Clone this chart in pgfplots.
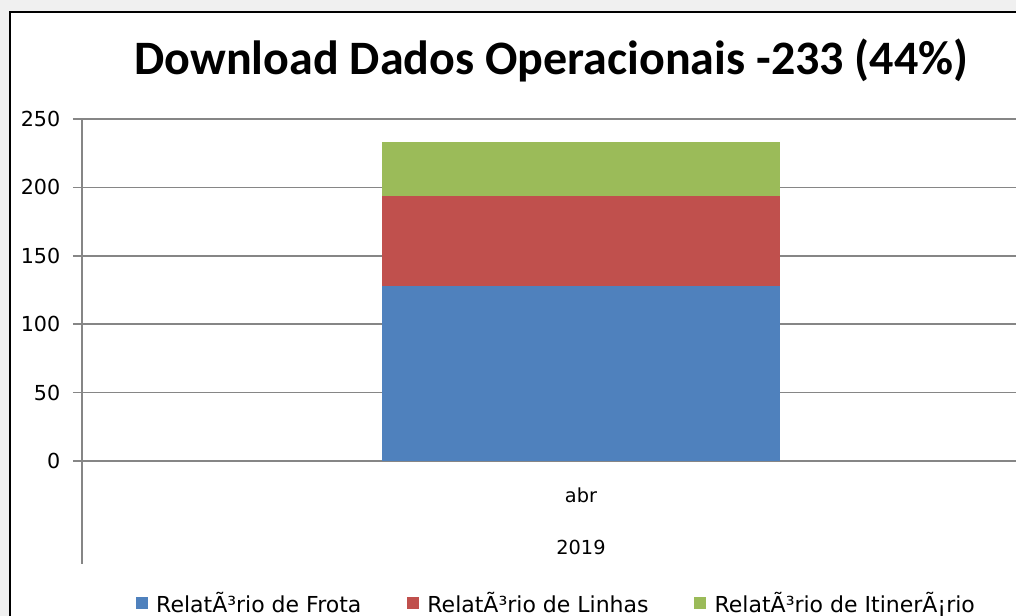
\documentclass[border=0pt]{standalone}
\usepackage{pgfplots}
\pgfplotsset{compat=1.18}
\usepackage{fontspec}
\setmainfont{DejaVu Sans}
\newfontfamily\titlefont{Carlito}
\definecolor{cblue}{RGB}{79,129,189}
\definecolor{cred}{RGB}{192,80,77}
\definecolor{cgreen}{RGB}{155,187,89}
\definecolor{cgrid}{RGB}{134,134,134}
\begin{document}
\begin{tikzpicture}
% picture: 1016 x 616 px, 1px = 0.75pt
\useasboundingbox (0,0) rectangle (762pt,462pt);
\clip (0,0) rectangle (762pt,462pt);
\fill[gray!12] (0,0) rectangle (762pt,462pt);
\fill[white] (7.5pt,0) rectangle (762pt,453pt);
\draw[black, line width=1.5pt] (7.5pt,0) -- (7.5pt,453pt) -- (770pt,453pt);
\begin{axis}[
  at={(61.5pt,39pt)}, anchor=south west,
  scale only axis, width=748.5pt, height=333.75pt,
  ybar stacked, bar width=298.5pt,
  xmin=-1, xmax=1, ymin=-75.3, ymax=250,
  xtick=\empty,
  ytick={0,50,100,150,200,250},
  ymajorgrids, grid style={cgrid, line width=1.3pt},
  axis x line=none,
  axis y line*=left,
  y axis line style={-, cgrid, line width=1.3pt},
  ytick style={cgrid, line width=1.3pt},
  tick align=outside, major tick length=6.75pt,
  yticklabel style={font=\fontsize{15.5}{17}\selectfont, xshift=-6pt},
  /pgf/number format/assume math mode=true,
  legend columns=3,
  legend style={at={(rel axis cs:0.4755,-0.088)}, anchor=center, draw=none, fill=none,
    font=\fontsize{16.5}{18}\selectfont,
    /tikz/every odd column/.append style={column sep=4.5pt},
    /tikz/every even column/.append style={column sep=32pt}},
  legend image code/.code={\fill[#1] (0pt,-4.5pt) rectangle (9pt,4.5pt);},
  clip=false,
]
\addplot[fill=cblue, draw=none] coordinates {(0,128)};
\addplot[fill=cred, draw=none] coordinates {(0,66)};
\addplot[fill=cgreen, draw=none] coordinates {(0,39)};
\legend{RelatÃ³rio de Frota, RelatÃ³rio de Linhas, RelatÃ³rio de ItinerÃ¡rio}
\node[font=\fontsize{14.5}{16}\selectfont] at (axis cs:0,-24.8) {abr};
\node[font=\fontsize{14.5}{16}\selectfont] at (axis cs:0,-63.5) {2019};
\end{axis}
\node[font=\titlefont\bfseries\fontsize{36}{40}\selectfont] at (413.5pt,417pt) {Download Dados Operacionais -233 (44\%)};
\end{tikzpicture}
\end{document}
